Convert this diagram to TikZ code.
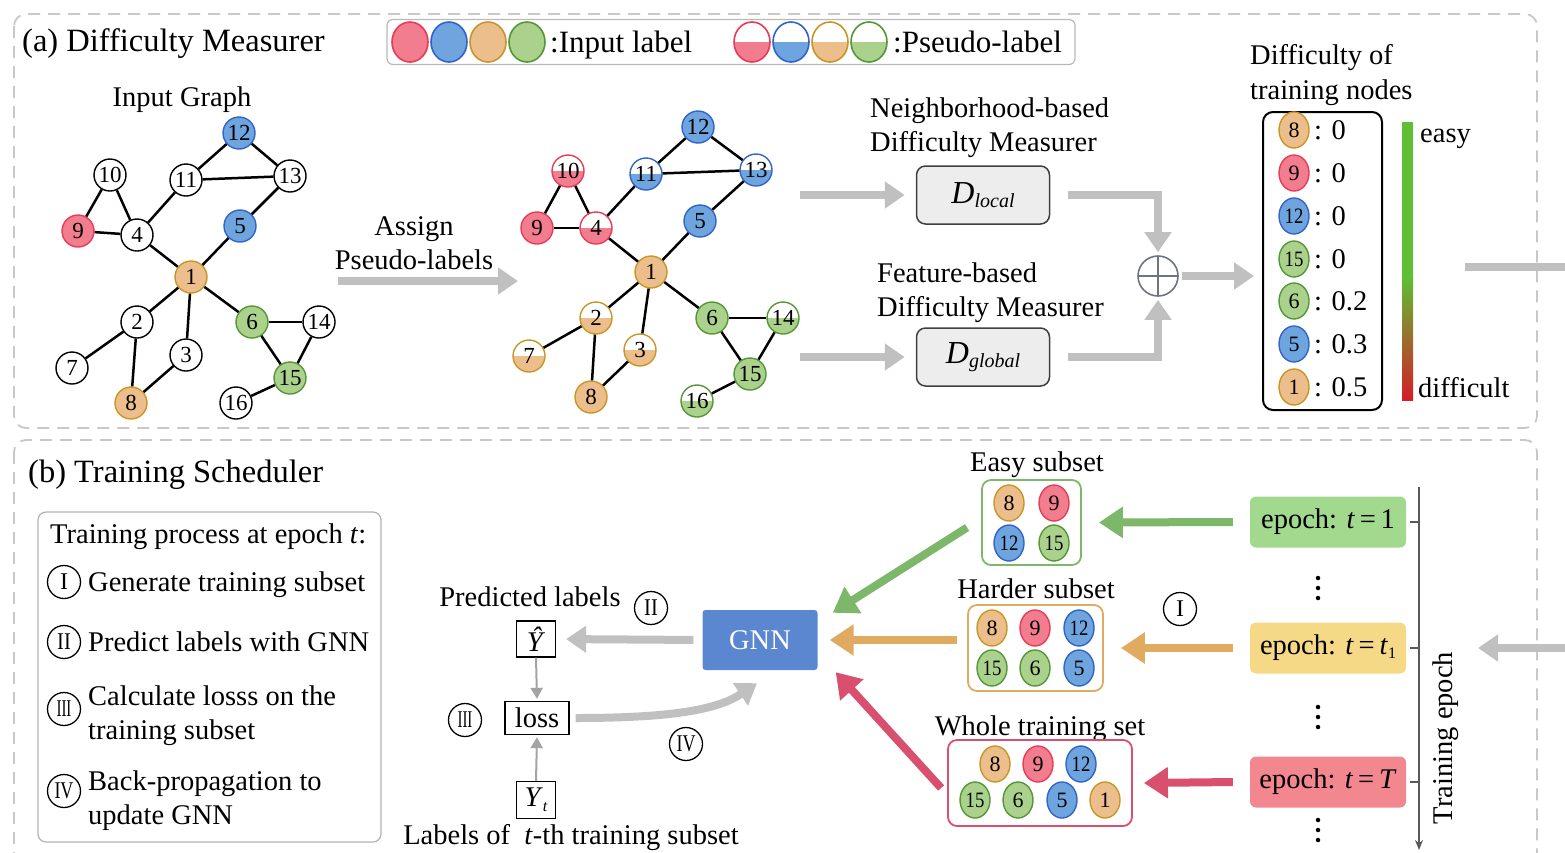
\documentclass[tikz,border=0pt]{standalone}
\usepackage{fontspec}
\setmainfont{Liberation Serif}
\usetikzlibrary{arrows.meta,shapes.geometric,calc}
\definecolor{rF}{RGB}{242,125,143}\definecolor{rD}{RGB}{232,60,85}
\definecolor{bF}{RGB}{111,165,222}\definecolor{bD}{RGB}{50,100,200}
\definecolor{oF}{RGB}{236,190,140}\definecolor{oD}{RGB}{200,150,40}
\definecolor{gF}{RGB}{170,210,140}\definecolor{gD}{RGB}{85,150,55}
\definecolor{arrgray}{RGB}{192,192,192}
\definecolor{dashgray}{RGB}{200,200,200}
\definecolor{barG}{RGB}{95,190,50}\definecolor{barR}{RGB}{212,30,40}
\definecolor{gnnC}{RGB}{91,135,208}
\definecolor{epG}{RGB}{163,216,143}\definecolor{epY}{RGB}{246,217,134}\definecolor{epR}{RGB}{242,135,143}
\definecolor{arG}{RGB}{125,184,106}\definecolor{arO}{RGB}{224,170,96}\definecolor{arR}{RGB}{217,80,110}
\definecolor{plusC}{RGB}{110,115,130}
\tikzset{
 hpart/.style={path picture={\fill[#1] (path picture bounding box.west) rectangle (path picture bounding box.south east);}},
 gn/.style={circle,draw=black,line width=1.4pt,minimum size=32pt,inner sep=0pt,fill=white,font=\fontsize{23}{23}\selectfont},
 gR/.style={gn,fill=rF,draw=rD}, gB/.style={gn,fill=bF,draw=bD},
 gO/.style={gn,fill=oF,draw=oD}, gG/.style={gn,fill=gF,draw=gD},
 hR/.style={gn,draw=rD,hpart=rF}, hB/.style={gn,draw=bD,hpart=bF},
 hO/.style={gn,draw=oD,hpart=oF}, hG/.style={gn,draw=gD,hpart=gF},
 sn/.style={ellipse,line width=1.4pt,minimum width=30pt,minimum height=36pt,inner sep=0pt,font=\fontsize{22}{22}\selectfont},
 sR/.style={sn,fill=rF,draw=rD}, sB/.style={sn,fill=bF,draw=bD},
 sO/.style={sn,fill=oF,draw=oD}, sG/.style={sn,fill=gF,draw=gD},
 lg/.style={ellipse,line width=1.6pt,minimum width=36pt,minimum height=40pt,inner sep=0pt},
 edge/.style={line width=2.5pt,black},
 garrow/.style={draw=arrgray,line width=8pt,-{Triangle[length=20pt,width=26pt]}},
 gline/.style={draw=arrgray,line width=8pt},
 thinarrow/.style={draw=arrgray!85!black,line width=2pt,-{Triangle[length=11pt,width=12pt]}},
 carrow/.style={draw=#1,line width=8pt,-{Triangle[length=24pt,width=30pt]}},
 outer/.style={draw=dashgray,line width=1.8pt,dash pattern=on 12pt off 8pt,rounded corners=12pt},
 lbl/.style={font=\fontsize{28.5}{34}\selectfont,inner sep=0pt,text height=22pt,text depth=3pt},
 hd/.style={font=\fontsize{32.5}{38}\selectfont,inner sep=0pt,text height=24pt,text depth=3pt},
 lgt/.style={font=\fontsize{31}{36}\selectfont,inner sep=0pt,text height=24pt,text depth=3pt},
 rom/.style={circle,draw=black,line width=1.3pt,minimum size=33pt,inner sep=0pt,font=\fontsize{24}{24}\selectfont},
 dbox/.style={draw=black!75,fill=black!7,line width=1.5pt,rounded corners=9pt,minimum width=133pt,minimum height=58pt,font=\fontsize{32}{32}\selectfont},
 subbox/.style={draw=#1,line width=1.8pt,rounded corners=9pt},
 epbox/.style={fill=#1,rounded corners=6pt,minimum width=156pt,minimum height=51pt,inner sep=0pt,font=\fontsize{28.5}{34}\selectfont},
 mbox/.style={draw=black,line width=1.3pt,inner sep=0pt,font=\fontsize{28.5}{34}\selectfont},
 vdot/.style={circle,fill=black,inner sep=0pt,minimum size=4.5pt},
}
\begin{document}
\begin{tikzpicture}[x=1pt,y=-1pt]
\useasboundingbox (0,0) rectangle (1565,852);
\draw[outer] (14,14) rectangle (1537,428);
\draw[outer] (14,440) rectangle (1537,890);
% ---------- (a) ----------
\node[hd,anchor=west] (ta) at (22,41) {(a) Difficulty Measurer};
\node[draw=gray!55,line width=1.2pt,rounded corners=6pt,minimum width=688pt,minimum height=45pt] (leg) at (731,42) {};
\node[lg,fill=rF,draw=rD] (l1) at (410,42) {};
\node[lg,fill=bF,draw=bD] (l2) at (449,42) {};
\node[lg,fill=oF,draw=oD] (l3) at (488,42) {};
\node[lg,fill=gF,draw=gD] (l4) at (527,42) {};
\node[lgt,anchor=west] (lt1) at (550,42) {:Input label};
\node[lg,draw=rD,hpart=rF] (p1) at (752,42) {};
\node[lg,draw=bD,hpart=bF] (p2) at (791,42) {};
\node[lg,draw=oD,hpart=oF] (p3) at (830,42) {};
\node[lg,draw=gD,hpart=gF] (p4) at (869,42) {};
\node[lgt,anchor=west] (lt2) at (893,42) {:Pseudo-label};
% input graph
\node[lbl] (ig) at (182,97) {Input Graph};
\node[gB] (a12) at (239,133) {12};
\node[gn] (a10) at (110,175) {10};
\node[gn] (a11) at (186,180) {11};
\node[gn] (a13) at (290,176) {13};
\node[gR] (a9) at (78,231) {9};
\node[gn] (a4) at (137,235) {4};
\node[gB] (a5) at (240,226) {5};
\node[gO] (a1) at (191,277) {1};
\node[gn] (a2) at (137,322) {2};
\node[gG] (a6) at (252,322) {6};
\node[gn] (a14) at (319,322) {14};
\node[gn] (a3) at (186,355) {3};
\node[gn] (a7) at (72,368) {7};
\node[gG] (a15) at (290,378) {15};
\node[gO] (a8) at (131,403) {8};
\node[gn] (a16) at (236,403) {16};
\foreach \u/\v in {10/9,10/4,9/4,4/11,11/12,12/13,11/13,13/5,5/1,4/1,1/2,1/3,1/6,2/7,2/8,3/8,6/14,6/15,14/15,15/16}
  \draw[edge] (a\u) -- (a\v);
% assign arrow
\node[lbl] (as1) at (414,226) {Assign};
\node[lbl] (as2) at (414,260) {Pseudo-labels};
\coordinate (asS) at (338,281);
\coordinate (asE) at (518,281);
\draw[garrow] (asS) -- (asE);
% pseudo graph
\node[gB] (b12) at (698,127) {12};
\node[hR] (b10) at (568,171) {10};
\node[hB] (b11) at (646,174) {11};
\node[hB] (b13) at (756,170) {13};
\node[gR] (b9) at (537,228) {9};
\node[hR] (b4) at (596,228) {4};
\node[gB] (b5) at (700,221) {5};
\node[gO] (b1) at (651,272) {1};
\node[hO] (b2) at (596,318) {2};
\node[gG] (b6) at (712,318) {6};
\node[hG] (b14) at (783,318) {14};
\node[hO] (b3) at (640,350) {3};
\node[hO] (b7) at (529,356) {7};
\node[gG] (b15) at (750,374) {15};
\node[gO] (b8) at (591,397) {8};
\node[hG] (b16) at (697,401) {16};
\foreach \u/\v in {10/9,10/4,9/4,4/11,11/12,12/13,11/13,13/5,5/1,4/1,1/2,1/3,1/6,2/7,2/8,3/8,6/14,6/15,14/15,15/16}
  \draw[edge] (b\u) -- (b\v);
% measurers
\node[lbl,anchor=west] (nb1) at (870,108) {Neighborhood-based};
\node[lbl,anchor=west] (nb2) at (870,142) {Difficulty Measurer};
\node[lbl,anchor=west] (fb1) at (877,273) {Feature-based};
\node[lbl,anchor=west] (fb2) at (877,307) {Difficulty Measurer};
\node[dbox] (dloc) at (983,195) {\textit{D}\raisebox{-0.3ex}{\fontsize{20}{20}\selectfont\itshape local}};
\node[dbox] (dglo) at (983,357) {\textit{D}\raisebox{-0.3ex}{\fontsize{20}{20}\selectfont\itshape global}};
\coordinate (m1) at (800,195);
\coordinate (m2) at (800,357);
\draw[garrow,shorten >=11pt] (m1) -- (dloc.west);
\draw[garrow,shorten >=11pt] (m2) -- (dglo.west);
\node[circle,draw=plusC,line width=1.6pt,minimum size=40pt,inner sep=0pt,
  path picture={\draw[plusC,line width=1.6pt] (path picture bounding box.north) -- (path picture bounding box.south) (path picture bounding box.west) -- (path picture bounding box.east);}] (plus) at (1158,276) {};
\draw[garrow,shorten >=3pt] ([xshift=18pt]dloc.east) -| (plus.north);
\draw[garrow,shorten >=3pt] ([xshift=18pt]dglo.east) -| (plus.south);
% difficulty list
\node[lbl,anchor=west] (dt1) at (1250,55) {Difficulty of};
\node[lbl,anchor=west] (dt2) at (1250,90) {training nodes};
\node[draw=black,line width=2pt,rounded corners=10pt,minimum width=119pt,minimum height=298pt] (dlist) at (1322.5,261) {};
\draw[garrow,shorten >=8pt] ([xshift=3pt]plus.east) -- (plus -| dlist.west);
\node[sO] (d8) at (1294,130) {8};
\node[sR] (d9) at (1294,173) {9};
\node[sB] (d12) at (1294,216) {\scalebox{0.85}[1]{12}};
\node[sG] (d15) at (1294,259) {\scalebox{0.85}[1]{15}};
\node[sG] (d6) at (1294,301) {6};
\node[sB] (d5) at (1294,344) {5};
\node[sO] (d1) at (1294,387) {1};
\node[lbl,anchor=west] at (1314,130) {: 0};
\node[lbl,anchor=west] at (1314,173) {: 0};
\node[lbl,anchor=west] at (1314,216) {: 0};
\node[lbl,anchor=west] at (1314,259) {: 0};
\node[lbl,anchor=west] at (1314,301) {: 0.2};
\node[lbl,anchor=west] at (1314,344) {: 0.3};
\node[lbl,anchor=west] at (1314,387) {: 0.5};
\fill[barG] (1402,122) rectangle (1413,278);
\shade[top color=barG,bottom color=barR] (1402,278) rectangle (1413,400);
\node[lbl,anchor=west] (easy) at (1420,133) {easy};
\node[lbl,anchor=west] (diff) at (1418,388) {difficult};
\coordinate (outA) at (1465,267);
\coordinate (outB) at (1575,267);
\draw[gline] (outA) -- (outB);
% ---------- (b) ----------
\node[hd,anchor=west] (tb) at (28,472) {(b) Training Scheduler};
\node[draw=gray!60,line width=1.2pt,rounded corners=8pt,minimum width=343pt,minimum height=330pt] (proc) at (209.5,677) {};
\node[lbl,anchor=west] at (50,534) {Training process at epoch \textit{t}:};
\node[rom] (r1) at (64,582) {I};
\node[rom] (r2) at (64,642) {\scalebox{0.85}[1]{II}};
\node[rom] (r3) at (64,709) {\scalebox{0.62}[1]{III}};
\node[rom] (r4) at (64,791) {\scalebox{0.75}[1]{IV}};
\node[lbl,anchor=west] at (88,582) {Generate training subset};
\node[lbl,anchor=west] at (88,642) {Predict labels with GNN};
\node[lbl,anchor=west] at (88,696) {Calculate losss on the};
\node[lbl,anchor=west] at (88,730) {training subset};
\node[lbl,anchor=west] at (88,781) {Back-propagation to};
\node[lbl,anchor=west] at (88,815) {update GNN};
% prediction / loss
\node[lbl] (pl) at (530,597) {Predicted labels};
\node[rom] (c2) at (651,608) {\scalebox{0.85}[1]{II}};
\node[mbox,minimum width=39pt,minimum height=36pt] (yhat) at (536,639) {\textit{Ŷ}};
\node[mbox,minimum width=64pt,minimum height=33pt] (loss) at (537,718) {loss};
\node[mbox,minimum width=39pt,minimum height=37pt] (yt) at (536,800) {\textit{Y}\raisebox{-0.35ex}{\fontsize{16}{16}\selectfont\itshape t}};
\node[lbl] (lt) at (571,835) {Labels of \ \textit{t}-th training subset};
\node[rom] (c3) at (465,720) {\scalebox{0.62}[1]{III}};
\node[rom] (c4) at (686,744) {\scalebox{0.75}[1]{IV}};
\node[fill=gnnC,rounded corners=3pt,minimum width=115pt,minimum height=60pt,text=white,font=\fontsize{28.5}{34}\selectfont] (gnn) at (760,640) {GNN};
\draw[garrow,shorten <=9pt,shorten >=10pt] (gnn.west) -- (yhat.east);
\draw[thinarrow,shorten >=2pt] (yhat.south) -- (loss.north);
\draw[thinarrow,shorten >=2pt] (yt.north) -- (loss.south);
\draw[garrow] ([xshift=6pt]loss.east) .. controls (680,718) and (720,708) .. ([yshift=-13pt,xshift=-3pt]gnn.south);
% subsets
\node[lbl] (es) at (1037,462) {Easy subset};
\node[subbox=arG,minimum width=99pt,minimum height=85pt] (easyb) at (1031.5,522.5) {};
\node[sO] (e8) at (1009,503) {8};
\node[sR] (e9) at (1054,503) {9};
\node[sB] (e12) at (1009,543) {\scalebox{0.85}[1]{12}};
\node[sG] (e15) at (1054,543) {\scalebox{0.85}[1]{15}};
\node[lbl] (hs) at (1036,589) {Harder subset};
\node[subbox=arO,minimum width=135pt,minimum height=86pt] (hardb) at (1035.5,648) {};
\node[sO] (h8) at (992,628) {8};
\node[sR] (h9) at (1035,628) {9};
\node[sB] (h12) at (1079,628) {\scalebox{0.85}[1]{12}};
\node[sG] (h15) at (992,668) {\scalebox{0.85}[1]{15}};
\node[sG] (h6) at (1035,668) {6};
\node[sB] (h5) at (1079,668) {5};
\node[lbl] (ws) at (1040,726) {Whole training set};
\node[subbox=arR,minimum width=184pt,minimum height=86pt] (wholeb) at (1040,783) {};
\node[sO] (w8) at (995,764) {8};
\node[sR] (w9) at (1038,764) {9};
\node[sB] (w12) at (1081,764) {\scalebox{0.85}[1]{12}};
\node[sG] (w15) at (975,800) {\scalebox{0.85}[1]{15}};
\node[sG] (w6) at (1018,800) {6};
\node[sB] (w5) at (1062,800) {5};
\node[sO] (w1) at (1105,800) {1};
% epochs
\node[epbox=epG] (ep1) at (1328,522) {epoch: \textit{t}\,=\,1};
\node[epbox=epY] (ep2) at (1328,648) {epoch: \textit{t}\,=\,\textit{t}\raisebox{-0.3ex}{\fontsize{16}{16}\selectfont 1}};
\node[epbox=epR] (ep3) at (1328,782) {epoch: \textit{t}\,=\,\textit{T}};
\foreach \y in {578,588,598,707,717,727,820,830,840}
  \node[vdot] at (1318,\y) {};
\coordinate (axT) at (1419,487);
\coordinate (axB) at (1419,850);
\draw[line width=1.3pt,black!65,-{Stealth[length=10pt,width=8pt]}] (axT) -- (axB);
\draw[line width=1.3pt,black!65] ([xshift=4pt]ep1.east) -- ++(9,0);
\draw[line width=1.3pt,black!65] ([xshift=4pt]ep2.east) -- ++(9,0);
\draw[line width=1.3pt,black!65] ([xshift=4pt]ep3.east) -- ++(9,0);
\node[lbl,rotate=90] (tep) at (1443,738) {Training epoch};
\node[rom] (c1) at (1180,609) {I};
\draw[carrow=arG] ([xshift=-17pt]ep1.west) -- ([xshift=17pt]easyb.east);
\draw[carrow=arO] ([xshift=-17pt]ep2.west) -- ([xshift=17pt]hardb.east);
\draw[carrow=arR] ([xshift=-17pt]ep3.west) -- ([xshift=11pt]wholeb.east);
\draw[carrow=arG] ([xshift=-14pt,yshift=-5pt]easyb.west) -- ([xshift=15pt,yshift=-3pt]gnn.north east);
\draw[carrow=arO] ([xshift=-10pt,yshift=8pt]hardb.west) -- ([xshift=12pt]gnn.east);
\draw[carrow=arR] ([xshift=-6pt,yshift=-5pt]wholeb.west) -- ([xshift=18pt,yshift=-2pt]gnn.south east);
\coordinate (inA) at (1575,648);
\coordinate (inB) at (1478,648);
\draw[garrow] (inA) -- (inB);
\end{tikzpicture}
\end{document}
